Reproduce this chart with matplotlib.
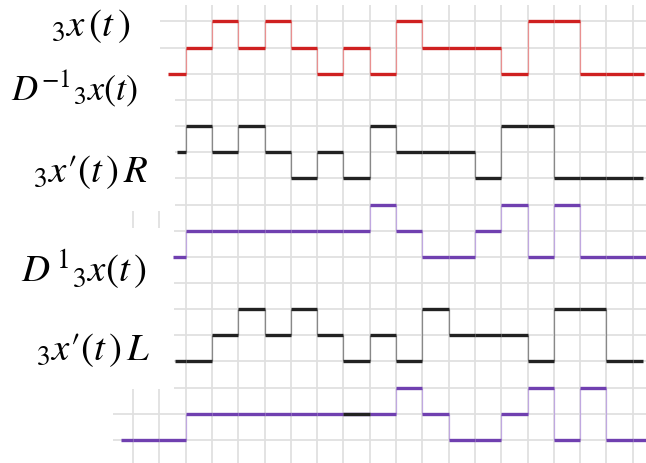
import numpy as np
import matplotlib
matplotlib.use("Agg")
import matplotlib.pyplot as plt
from matplotlib.patches import Rectangle

plt.rcParams['mathtext.fontset'] = 'stix'

# ternary signal values (0 = low, 1 = mid, 2 = high) per unit time slot
slots = np.arange(1, 20)
x3 = [0, 1, 2, 1, 2, 1, 0, 1, 0, 2, 1, 1, 1, 0, 2, 2, 0, 0, 0]
dm1 = [1, 2, 1, 2, 1, 0, 1, 0, 2, 1, 1, 1, 0, 2, 2, 0, 0, 0, 0]
xr = [0, 1, 1, 1, 1, 1, 1, 1, 2, 1, 0, 0, 1, 2, 0, 2, 0, 0, 0]
d1 = [0, 0, 1, 2, 1, 2, 1, 0, 1, 0, 2, 1, 1, 1, 0, 2, 2, 0, 0]
slots_l = np.arange(-1, 20)
xl = [0, 0, 0, 1, 1, 1, 1, 1, 1, 1, 1, 2, 1, 0, 0, 1, 2, 0, 2, 0, 0]
black_slot = 8

labels = [r'${}_{3}x\,(t\,)$', r'$D^{-1}{}_{3}x(t)$', r"${}_{3}x′(t\,)\,R$",
          r'$D^{\,1}{}_{3}x(t\,)$', r"${}_{3}x′(t\,)\,L$"]

W, H = 646, 463
X0, DX = 133.0, 26.3
Y0, DY = 21.5, 26.15

fig = plt.figure(figsize=(W / 100, H / 100), dpi=100)
ax = fig.add_axes([0, 0, 1, 1])
ax.set_xlim(-X0 / DX, (W - X0) / DX)
ax.set_ylim((H - Y0) / DY, -Y0 / DY)
ax.axis('off')

# grid
for c in range(20):
    ax.axvline(c, color='#e0e0e0', lw=1.3, zorder=1)
for r in range(17):
    ax.axhline(r, color='#e0e0e0', lw=1.3, zorder=1)


def px(x, y):
    return (x - X0) / DX, (y - Y0) / DY


def mask(x1, y1, x2, y2):
    a = px(x1, y1)
    b = px(x2, y2)
    ax.add_patch(Rectangle(a, b[0] - a[0], b[1] - a[1], color='white', lw=0, zorder=2))


mask(0, 0, W, 5)
mask(0, 0, 160, 52)
mask(0, 52, 175, 211)
mask(0, 228, 174, 389)
mask(0, 389, 113, H)


def trace(t, vals, start, end, base, color, vcolor):
    t = np.asarray(t, dtype=float)
    v = np.asarray(vals)
    left = np.maximum(t, start)
    right = np.minimum(t + 1, end)
    rows = base + 2 - v
    ax.hlines(rows, left, right, color=color, lw=2.4, zorder=4)
    ch = np.nonzero(np.diff(v))[0]
    ax.vlines(t[ch + 1], rows[ch], rows[ch + 1], color=vcolor, lw=0.9, zorder=3)
    return rows


red, blk, pur = '#cf2020', '#222222', '#7040b0'
trace(slots, x3, 1.33, 19.43, 0, red, '#e99090')
trace(slots, dm1, 1.67, 19.4, 4, blk, '#888888')
trace(slots, xr, 1.52, 19.6, 7, pur, '#c0a8e0')
trace(slots, d1, 1.6, 19.4, 11, blk, '#888888')
rows_l = trace(slots_l, xl, -0.46, 19.6, 14, pur, '#c0a8e0')
i = list(slots_l).index(black_slot)
ax.hlines(rows_l[i], black_slot, black_slot + 1, color=blk, lw=2.4, zorder=5)

# labels
pos = [(130, 36), (138, 100), (148, 182), (147, 283), (150, 360)]
sizes = [28, 26, 28, 28, 28]
for s, (lx, ly), fs in zip(labels, pos, sizes):
    fig.text(lx / W, 1 - ly / H, s, fontsize=fs, ha='right', va='baseline', zorder=6)

fig.savefig('out.png', dpi=100)
